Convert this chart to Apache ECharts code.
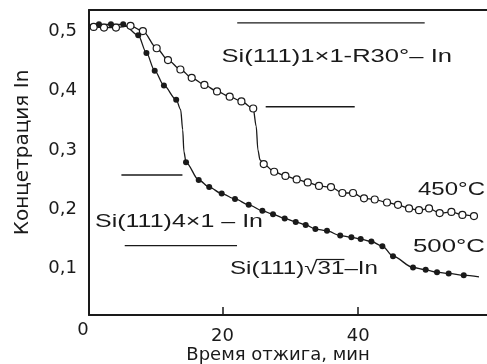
<!DOCTYPE html>
<html><head><meta charset="utf-8">
<script src="https://cdn.jsdelivr.net/npm/echarts@6/dist/echarts.min.js"></script>
<style>html,body{margin:0;padding:0;background:#fff}#c{width:487px;height:364px}</style>
</head><body><div id="c"></div>
<script>
// 450°C (open circles)
const x450 = [0.99,2.51,4.28,6.42,8.25,10.28,11.95,13.78,15.45,17.32,19.18,21.05,22.78,24.52,26.07,27.61,29.27,30.93,32.56,34.22,35.99,37.67,39.24,40.86,42.44,44.25,45.87,47.50,48.97,50.45,52.02,53.75,55.37,57.08];
const y450 = [0.508,0.507,0.507,0.510,0.501,0.472,0.452,0.436,0.422,0.410,0.399,0.390,0.382,0.370,0.276,0.263,0.256,0.250,0.245,0.239,0.237,0.227,0.227,0.218,0.216,0.211,0.207,0.201,0.198,0.201,0.193,0.195,0.190,0.188];
// unmarked curve points (start and steep drop)
const extra450x = [0.3,24.96,25.21,25.52];
const extra450y = [0.508,0.340,0.300,0.283];
// 500°C (filled circles)
const x500 = [1.77,3.54,5.34,7.56,8.77,9.99,11.35,13.16,14.61,16.48,18.03,19.87,21.83,23.85,25.87,27.44,29.16,30.79,32.26,33.69,35.40,37.35,39.00,40.37,41.95,43.57,45.14,48.09,49.96,51.63,53.35,55.57];
const y500 = [0.5125,0.5125,0.5125,0.494,0.464,0.434,0.409,0.385,0.279,0.249,0.237,0.226,0.217,0.207,0.197,0.191,0.184,0.178,0.173,0.166,0.163,0.155,0.152,0.149,0.145,0.137,0.120,0.101,0.097,0.093,0.091,0.088];
const extra500x = [0.3,13.82,14.12,14.30,57.82];
const extra500y = [0.511,0.368,0.334,0.297,0.085];
// phase boundary segments
const phaseX1 = [22.16,26.36,5.08,5.57];
const phaseX2 = [49.81,39.49,14.08,22.13];
const phaseY  = [0.515,0.373,0.2575,0.138];
// ticks / labels
const xTicks = [20,40];
const yTicks = [0.1,0.2,0.3,0.4,0.5];
const originLabel = '0';
const xName = 'Время отжига, мин';
const yName = 'Концетрация In';
const annotations = ['Si(111)1×1-R30°– In','450°C','500°C','Si(111)4×1 – In','Si(111)√31–In'];

const INK = '#1a1a1a';
function pairs(xs, ys){ return xs.map((x,i)=>[x, ys[i]]); }
function curve(xs, ys, ex, ey){ return pairs(xs,ys).concat(pairs(ex,ey)).sort((a,b)=>a[0]-b[0]); }

const chart = echarts.init(document.getElementById('c'), null, {renderer:'canvas'});

const ctx = document.createElement('canvas').getContext('2d');
const AFONT = '"Liberation Sans", Arial, sans-serif';
const AFS = 18.5;
ctx.font = AFS + 'px ' + AFONT;
function tw(s){ return ctx.measureText(s).width; }

// annotation boxes: [textIndex, left, right, centerY]
const annPos = [[0,221.5,452,56.5],[1,418,485,189.7],[2,413,485,247],[3,95,263,222.2],[4,230,378,268.7]];
const graphics = annPos.map(([i,l,r,cy]) => ({
  type:'text', x:l, y:cy, scaleX:(r-l)/tw(annotations[i]), originX:0, originY:0,
  style:{text:annotations[i], fontSize:AFS, fontFamily:AFONT, fill:INK, align:'left', verticalAlign:'middle'}
}));
// overline of the radical over "31"
(function(){
  const s = annotations[4]; const p = annPos[4];
  const sc = (p[2]-p[1])/tw(s);
  const i0 = s.indexOf('√')+1;
  const a = p[1] + tw(s.slice(0,i0))*sc - 1, b = p[1] + tw(s.slice(0,i0+2))*sc;
  graphics.push({type:'line', shape:{x1:a,y1:259.5,x2:b,y2:259.5}, style:{stroke:INK,lineWidth:1.2}});
})();
graphics.push({type:'text', x:83, y:330, style:{text:originLabel, fontSize:18, fontFamily:'DejaVu Sans', fill:INK, align:'center', verticalAlign:'middle'}});

const series = [
  {type:'line', data:curve(x450,y450,extra450x,extra450y), symbol:'none', smooth:0.3, smoothMonotone:'x',
   lineStyle:{color:INK,width:1.3}, z:2, silent:true},
  {type:'line', data:curve(x500,y500,extra500x,extra500y), symbol:'none', smooth:0.3, smoothMonotone:'x',
   lineStyle:{color:INK,width:1.3}, z:2, silent:true},
  {type:'scatter', data:pairs(x450,y450), symbol:'circle', symbolSize:7,
   itemStyle:{color:'#fff', borderColor:INK, borderWidth:1.2, opacity:1}, z:4},
  {type:'scatter', data:pairs(x500,y500), symbol:'circle', symbolSize:6,
   itemStyle:{color:INK, opacity:1}, z:4}
];
phaseY.forEach((y,i)=>{
  series.push({type:'line', data:[[phaseX1[i],y],[phaseX2[i],y]], symbol:'none', lineStyle:{color:INK,width:1.3}, z:2, silent:true});
});

chart.setOption({
  animation:false,
  backgroundColor:'#fff',
  grid:{left:89, right:0, top:10, bottom:49, containLabel:false, outerBoundsMode:'none'},
  xAxis:[{
    type:'value', min:0.3, max:59.0,
    axisLine:{show:true, lineStyle:{color:INK,width:2}},
    axisTick:{show:true, inside:true, length:8, customValues:xTicks, lineStyle:{color:INK,width:1.5}},
    axisLabel:{show:true, customValues:xTicks, margin:12, fontSize:18, fontFamily:'DejaVu Sans', color:INK},
    splitLine:{show:false},
    name:xName, nameLocation:'middle', nameGap:31, nameMoveOverlap:false,
    nameTextStyle:{fontSize:18, fontFamily:'DejaVu Sans', color:INK, padding:[0,20,0,0]}
  },{
    type:'value', position:'top', min:0.3, max:59.0,
    axisLine:{show:true, lineStyle:{color:INK,width:2}},
    axisTick:{show:false}, axisLabel:{show:false}, splitLine:{show:false}
  }],
  yAxis:{
    type:'value', min:0.0206, max:0.5367,
    axisLine:{show:true, lineStyle:{color:INK,width:2}},
    axisTick:{show:false},
    axisLabel:{show:true, customValues:yTicks, margin:12, fontSize:18, fontFamily:'DejaVu Sans', color:INK,
      formatter:v=>v.toFixed(1).replace('.',',')},
    splitLine:{show:false},
    name:yName, nameLocation:'middle', nameRotate:90, nameGap:56, nameMoveOverlap:false,
    nameTextStyle:{fontSize:20, fontFamily:'DejaVu Sans', color:INK, padding:[0,0,0,20]}
  },
  series:series,
  graphic:graphics
});
</script></body></html>
